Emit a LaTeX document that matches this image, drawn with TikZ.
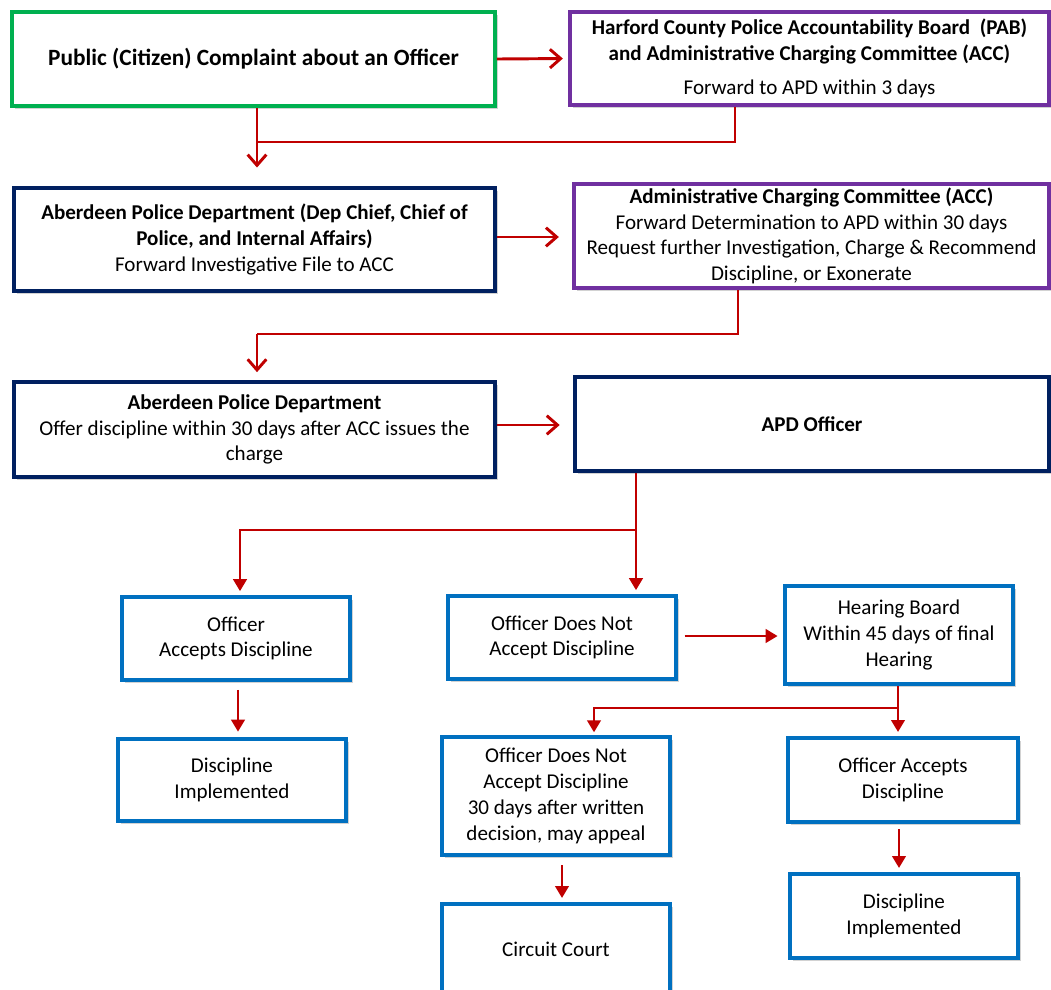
\documentclass[tikz,border=0pt]{standalone}
\usepackage{fontspec}
\setmainfont{Carlito}
\usepackage{tikz}
\usetikzlibrary{arrows.meta,shadows}

\definecolor{boxgreen}{RGB}{0,176,80}
\definecolor{boxpurple}{RGB}{112,48,160}
\definecolor{boxnavy}{RGB}{0,32,96}
\definecolor{boxblue}{RGB}{0,112,192}
\definecolor{arrowred}{RGB}{192,0,0}

\begin{document}
\begin{tikzpicture}[x=0.75pt, y=-0.75pt,
    every node/.style={font=\fontsize{15.8}{19.3}\selectfont, align=center},
    box/.style={draw, fill=white, line width=3pt, inner sep=2pt,
      drop shadow={shadow xshift=2pt, shadow yshift=-2pt, opacity=0.35, fill=gray}},
    greenbox/.style={box, draw=boxgreen},
    purplebox/.style={box, draw=boxpurple},
    navybox/.style={box, draw=boxnavy},
    bluebox/.style={box, draw=boxblue},
    flow/.style={draw=arrowred, line width=2.2pt},
    barb/.style={flow, -{Straight Barb[length=8pt, width=14pt, line width=2.2pt]}},
    tri/.style={flow, -{Triangle[length=9pt, width=10pt]}}]
    \useasboundingbox (0,0) rectangle (1051,990);
    \fill[white] (0,0) rectangle (1051,990);
    % top row
    \node[greenbox, minimum width=362pt, minimum height=70.5pt] (complaint) at (253.5,59)
      {\fontsize{17.5}{21}\selectfont\textbf{Public (Citizen) Complaint about an Officer}};
    \node[purplebox, minimum width=359pt, minimum height=70pt] (pab) at (809.5,58.5)
      {\textbf{Harford County Police Accountability Board\ \ (PAB)}\\
       \textbf{and Administrative Charging Committee (ACC)}\\[6pt]
       Forward to APD within 3 days};
    % second row
    \node[navybox, minimum width=361pt, minimum height=77pt] (apdchief) at (254.5,239.5)
      {\textbf{Aberdeen Police Department (Dep Chief, Chief of}\\
       \textbf{Police, and Internal Affairs)}\\
       Forward Investigative File to ACC};
    \node[purplebox, minimum width=356pt, minimum height=78pt] (acc) at (811.5,236)
      {\textbf{Administrative Charging Committee (ACC)}\\
       Forward Determination to APD within 30 days\\
       Request further Investigation, Charge \& Recommend\\
       Discipline, or Exonerate};
    % third row
    \node[navybox, minimum width=361pt, minimum height=71pt] (apdoffer) at (254.5,429.5)
      {\textbf{Aberdeen Police Department}\\
       Offer discipline within 30 days after ACC issues the\\
       charge};
    \node[navybox, minimum width=355.5pt, minimum height=70.5pt] (officer) at (812,424)
      {\textbf{APD Officer}};
    % outcomes
    \node[bluebox, minimum width=171pt, minimum height=62pt] (accepts) at (236,638.5)
      {Officer\\Accepts Discipline};
    \node[bluebox, minimum width=171pt, minimum height=62pt] (declines) at (562,637.5)
      {Officer Does Not\\Accept Discipline};
    \node[bluebox, minimum width=171pt, minimum height=73.5pt] (hearing) at (899,635)
      {Hearing Board\\Within 45 days of final\\Hearing};
    \node[bluebox, minimum width=171pt, minimum height=61.5pt] (implleft) at (232,780)
      {Discipline\\Implemented};
    \node[bluebox, minimum width=171pt, minimum height=88.5pt] (appeal) at (556,796)
      {Officer Does Not\\Accept Discipline\\30 days after written\\decision, may appeal};
    \node[bluebox, minimum width=172.5pt, minimum height=63pt] (acceptsright) at (903,780)
      {Officer Accepts\\Discipline};
    \node[bluebox, minimum width=171pt, minimum height=67.5pt] (court) at (556,949)
      {Circuit Court};
    \node[bluebox, minimum width=171pt, minimum height=63pt] (implright) at (904,916)
      {Discipline\\Implemented};
    % connectors
    \coordinate (j1) at (257,142);
    \coordinate (j2) at (257,334);
    \coordinate (j3) at (636,530);
    \coordinate (j4) at (898,708);
    \draw[barb, shorten >=4pt] (complaint.east) -- (pab.west);
    \draw[flow] (pab.south -| 735,0) |- (j1);
    \draw[barb, shorten >=14pt] (complaint.south -| j1) -- (apdchief.north -| j1);
    \draw[barb, shorten >=10pt] (apdchief.east |- 0,237) -- (acc.west |- 0,237);
    \draw[flow] (acc.south -| 738,0) |- (j2);
    \draw[barb, shorten >=6pt] (j2) -- (apdoffer.north -| j2);
    \draw[barb, shorten >=10pt] (apdoffer.east |- 0,425) -- (officer.west |- 0,425);
    \draw[tri, shorten >=3pt] (officer.south -| j3) -- (declines.north -| j3);
    \draw[tri, shorten >=3pt] (j3) -| (accepts.north -| 240,0);
    \draw[tri, shorten <=5pt, shorten >=4pt] (declines.east |- 0,636) -- (hearing.west |- 0,636);
    \draw[tri, shorten >=3pt] (hearing.south -| j4) -- (acceptsright.north -| j4);
    \draw[tri, shorten >=2pt] (j4) -| (appeal.north -| 594,0);
    \draw[tri, shorten <=6pt, shorten >=4pt] (accepts.south -| 238,0) -- (implleft.north -| 238,0);
    \draw[tri, shorten <=6pt, shorten >=3pt] (appeal.south -| 562,0) -- (court.north -| 562,0);
    \draw[tri, shorten <=4pt, shorten >=3pt] (acceptsright.south -| 899,0) -- (implright.north -| 899,0);
\end{tikzpicture}
\end{document}
